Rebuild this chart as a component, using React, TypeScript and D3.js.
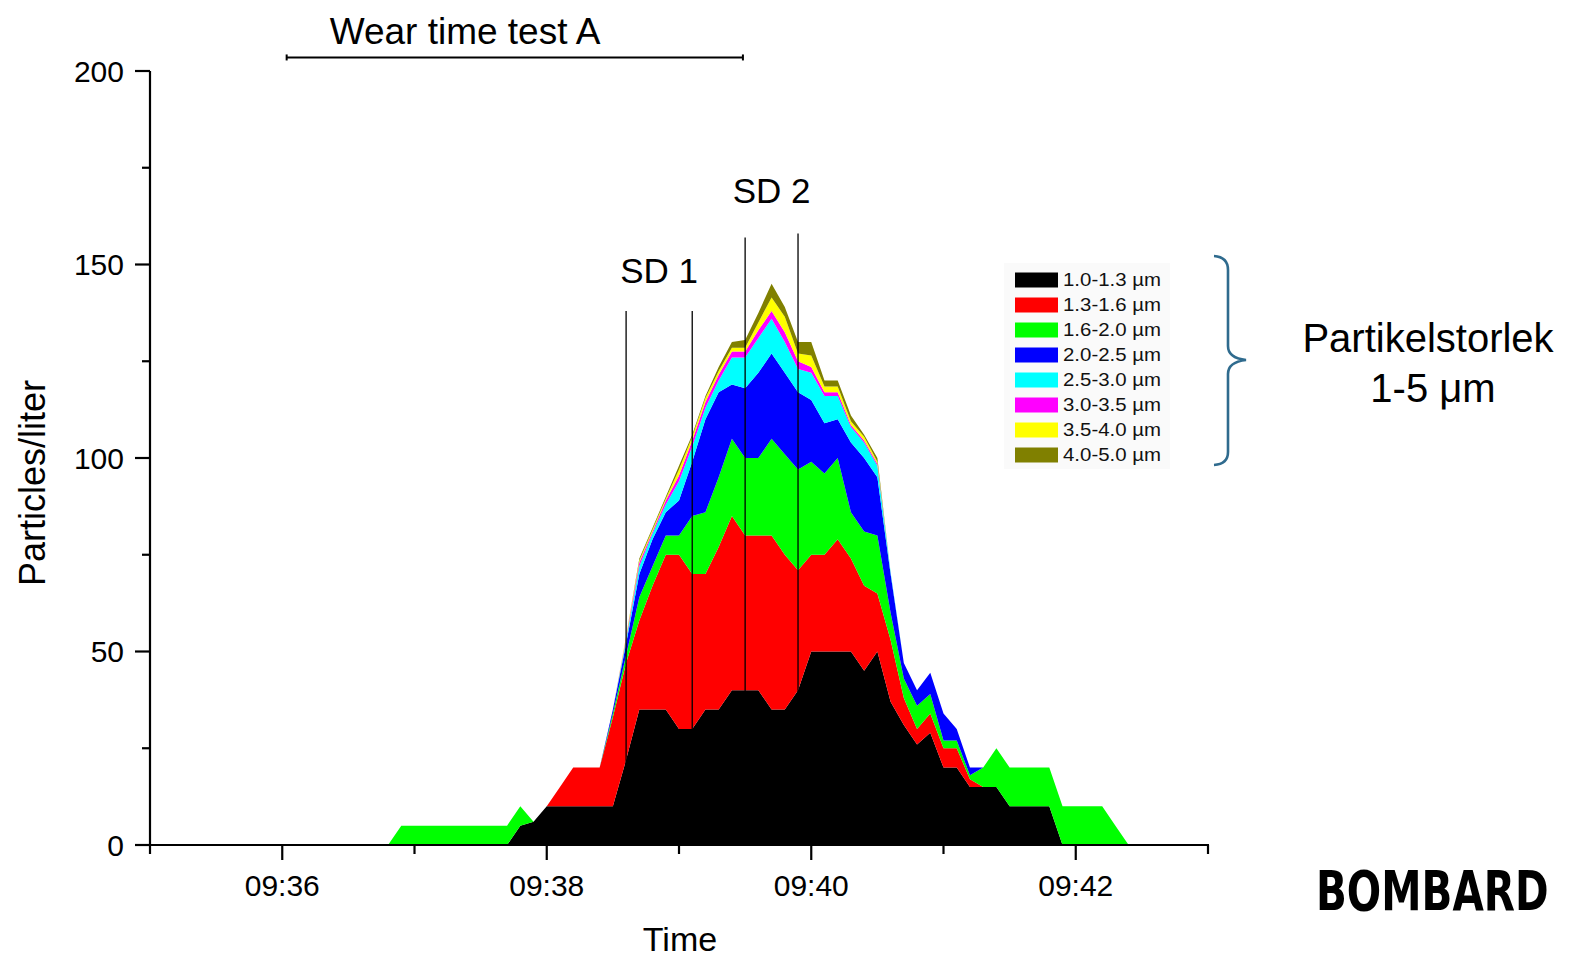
import React from "react";
import * as d3 from "d3";

const times = [
  "09:36:48","09:36:54","09:37:00","09:37:06","09:37:12","09:37:18","09:37:24","09:37:30","09:37:36","09:37:42",
  "09:37:48","09:37:54","09:38:00","09:38:06","09:38:12","09:38:18","09:38:24","09:38:30","09:38:36","09:38:42",
  "09:38:48","09:38:54","09:39:00","09:39:06","09:39:12","09:39:18","09:39:24","09:39:30","09:39:36","09:39:42",
  "09:39:48","09:39:54","09:40:00","09:40:06","09:40:12","09:40:18","09:40:24","09:40:30","09:40:36","09:40:42",
  "09:40:48","09:40:54","09:41:00","09:41:06","09:41:12","09:41:18","09:41:24","09:41:30","09:41:36","09:41:42",
  "09:41:48","09:41:54","09:42:00","09:42:06","09:42:12","09:42:18","09:42:24",
];

const s10_13 = [0,0,0,0,0,0,0,0,0,0,5,6,10,10,10,10,10,10,22,35,35,35,30,30,35,35,40,40,40,35,35,40,50,50,50,50,45,50,37,31,26,29,20,20,15,15,15,10,10,10,10,0,0,0,0,0,0];
const s13_16 = [0,0,0,0,0,0,0,0,0,0,0,0,0,5,10,10,10,23,25,23,32,40,45,40,35,42,45,40,40,45,40,31,25,25,29,24,22,15,16,7,4,5,5,5,2,0,0,0,0,0,0,0,0,0,0,0,0];
const s16_20 = [0,5,5,5,5,5,5,5,5,5,5,0,0,0,0,0,0,1,2,6,5,5,5,15,16,18,20,20,20,25,26,26,24,21,21,12,14,15,7,5,6,5,2,2,1,5,10,10,10,10,10,10,10,10,10,5,0];
const s20_25 = [0,0,0,0,0,0,0,0,0,0,0,0,0,0,0,0,0,1,3,6,7,6,9,14,24,22,14,18,22,22,21,20,16,13,10,18,19,15,10,4,4,5.5,7,3,2,0,0,0,0,0,0,0,0,0,0,0,0];
const s25_30 = [0,0,0,0,0,0,0,0,0,0,0,0,0,0,0,0,0,0,1,2,1.5,2,5,4,3,3,7,8,9,9,8,6,7,7,6,4,4,3,0.5,0,0,0,0,0,0,0,0,0,0,0,0,0,0,0,0,0,0];
const s30_35 = [0,0,0,0,0,0,0,0,0,0,0,0,0,0,0,0,0,0,0.5,1,0.5,1,1.5,1.5,1.5,1.5,1.5,1.5,2,2,2.5,2,1.5,1,1,0.5,0.5,0.5,0,0,0,0,0,0,0,0,0,0,0,0,0,0,0,0,0,0,0];
const s35_40 = [0,0,0,0,0,0,0,0,0,0,0,0,0,0,0,0,0,0,0.5,0.5,0.5,0.5,1.5,1,1,1,1,1,2,3.5,4,2,3,1.5,1.5,1,1,0.5,0,0,0,0,0,0,0,0,0,0,0,0,0,0,0,0,0,0,0];
const s40_50 = [0,0,0,0,0,0,0,0,0,0,0,0,0,0,0,0,0,0,0,0.5,0.5,0.5,1,0.5,0.5,1,1.5,2,2.5,3.5,2.5,3,3.5,1.5,1.5,1.5,0.5,1,0,0,0,0,0,0,0,0,0,0,0,0,0,0,0,0,0,0,0];

const seriesLabels = ["1.0-1.3 µm","1.3-1.6 µm","1.6-2.0 µm","2.0-2.5 µm","2.5-3.0 µm","3.0-3.5 µm","3.5-4.0 µm","4.0-5.0 µm"];
const seriesColors = ["#000000","#ff0000","#00ff00","#0000ff","#00ffff","#ff00ff","#ffff00","#808000"];
const seriesValues = [s10_13,s13_16,s16_20,s20_25,s25_30,s30_35,s35_40,s40_50];

const yMajorTicks = [0,50,100,150,200];
const yMinorTicks = [25,75,125,175];
const xMajorTicks = ["09:36:00","09:38:00","09:40:00","09:42:00"];
const xMinorTicks = ["09:35:00","09:37:00","09:39:00","09:41:00","09:43:00"];
const sd1Lines = ["09:38:36","09:39:06"];
const sd2Lines = ["09:39:30","09:39:54"];
const sd1Top = 138;
const sd2Top = [157, 158];
const wearStart = "09:36:02";
const wearEnd = "09:39:29";
const wearLevel = 203.5;

const FONT = "'Liberation Sans', Arial, Helvetica, sans-serif";

export default function App() {
  const parse = d3.timeParse("%H:%M:%S");
  const x = d3.scaleTime().domain([parse("09:35:00")!, parse("09:43:00")!]).range([150, 1208]);
  const y = d3.scaleLinear().domain([0, 200]).range([845, 71]);
  const fmt = d3.timeFormat("%H:%M");

  const keys = seriesLabels.map((_, i) => "k" + i);
  const rows = times.map((t, i) => {
    const r: any = { t: parse(t) };
    keys.forEach((k, j) => (r[k] = seriesValues[j][i]));
    return r;
  });
  const stacked = d3.stack<any>().keys(keys)(rows);
  const area = d3
    .area<any>()
    .x((d) => x(d.data.t))
    .y0((d) => y(d[0]))
    .y1((d) => y(d[1]))
    .curve(d3.curveLinear);

  const axisColor = "#000";

  return (
    <svg
      width={1570}
      height={960}
      style={{ position: "absolute", left: 0, top: 0, background: "#fff" }}
      fontFamily={FONT}
    >
      <rect x={0} y={0} width={1570} height={960} fill="#fff" />
      {/* stacked areas */}
      {stacked.map((s, i) => (
        <path key={i} d={area(s) || ""} fill={seriesColors[i]} stroke="none" />
      ))}

      {/* SD vertical lines */}
      {sd1Lines.map((t, i) => (
        <line key={"sd1" + i} x1={x(parse(t)!)} x2={x(parse(t)!)} y1={y(sd1Top)} y2={y(0)} stroke="#000" strokeWidth={1.3} />
      ))}
      {sd2Lines.map((t, i) => (
        <line key={"sd2" + i} x1={x(parse(t)!)} x2={x(parse(t)!)} y1={y(sd2Top[i])} y2={y(0)} stroke="#000" strokeWidth={1.3} />
      ))}
      <text x={(x(parse(sd1Lines[0])!) + x(parse(sd1Lines[1])!)) / 2} y={283} fontSize={35} textAnchor="middle">SD 1</text>
      <text x={(x(parse(sd2Lines[0])!) + x(parse(sd2Lines[1])!)) / 2} y={203} fontSize={35} textAnchor="middle">SD 2</text>

      {/* Wear time bar */}
      <line x1={x(parse(wearStart)!)} x2={x(parse(wearEnd)!)} y1={y(wearLevel)} y2={y(wearLevel)} stroke="#000" strokeWidth={2} />
      <line x1={x(parse(wearStart)!)} x2={x(parse(wearStart)!)} y1={y(wearLevel) - 3} y2={y(wearLevel) + 3} stroke="#000" strokeWidth={2} />
      <line x1={x(parse(wearEnd)!)} x2={x(parse(wearEnd)!)} y1={y(wearLevel) - 3} y2={y(wearLevel) + 3} stroke="#000" strokeWidth={2} />
      <text x={465} y={44} fontSize={37} textAnchor="middle">Wear time test A</text>

      {/* axes */}
      <line x1={150} x2={150} y1={y(200)} y2={y(0) + 1} stroke={axisColor} strokeWidth={2.2} />
      <line x1={149} x2={1209} y1={y(0)} y2={y(0)} stroke={axisColor} strokeWidth={2.2} />
      {yMajorTicks.map((v) => (
        <g key={"ym" + v}>
          <line x1={135} x2={150} y1={y(v)} y2={y(v)} stroke={axisColor} strokeWidth={2.2} />
          <text x={124} y={y(v)} dy="0.36em" fontSize={30} textAnchor="end">{v}</text>
        </g>
      ))}
      {yMinorTicks.map((v) => (
        <line key={"yn" + v} x1={142} x2={150} y1={y(v)} y2={y(v)} stroke={axisColor} strokeWidth={2.2} />
      ))}
      {xMajorTicks.map((t) => {
        const d = parse(t)!;
        return (
          <g key={"xm" + t}>
            <line x1={x(d)} x2={x(d)} y1={y(0)} y2={y(0) + 15} stroke={axisColor} strokeWidth={2.2} />
            <text x={x(d)} y={896} fontSize={30} textAnchor="middle">{fmt(d)}</text>
          </g>
        );
      })}
      {xMinorTicks.map((t) => {
        const d = parse(t)!;
        return <line key={"xn" + t} x1={x(d)} x2={x(d)} y1={y(0)} y2={y(0) + 9} stroke={axisColor} strokeWidth={2.2} />;
      })}

      {/* axis titles */}
      <text x={680} y={951} fontSize={34} textAnchor="middle">Time</text>
      <text transform="translate(45,483) rotate(-90)" fontSize={36} textAnchor="middle">Particles/liter</text>

      {/* legend */}
      <rect x={1004} y={263} width={166} height={206} fill="#fafafa" />
      {seriesLabels.map((lab, i) => {
        const cy = 280 + i * 25;
        return (
          <g key={"lg" + i}>
            <rect x={1015} y={cy - 7.5} width={43} height={15} fill={seriesColors[i]} />
            <text x={1063} y={cy} dy="0.36em" fontSize={18} textLength={98} lengthAdjust="spacingAndGlyphs" fill="#111">{lab}</text>
          </g>
        );
      })}

      {/* brace */}
      <path
        d="M1214,256 Q1228,257 1228,270 L1228,346 Q1228,358 1246,360 Q1228,362 1228,374 L1228,452 Q1228,464 1214,465"
        fill="none"
        stroke="#2f6b8e"
        strokeWidth={2.6}
      />
      <text x={1428} y={352} fontSize={40} textAnchor="middle">Partikelstorlek</text>
      <text x={1433} y={402} fontSize={40} textAnchor="middle">1-5 μm</text>

      {/* logo text */}
      <text
        transform="translate(1316,910) scale(1,1.22)"
        fontSize={45}
        fontWeight={900}
        fontFamily="'DejaVu Sans Condensed', 'Liberation Sans Narrow', 'Liberation Sans', sans-serif"
      >
        BOMBARD
      </text>
    </svg>
  );
}
